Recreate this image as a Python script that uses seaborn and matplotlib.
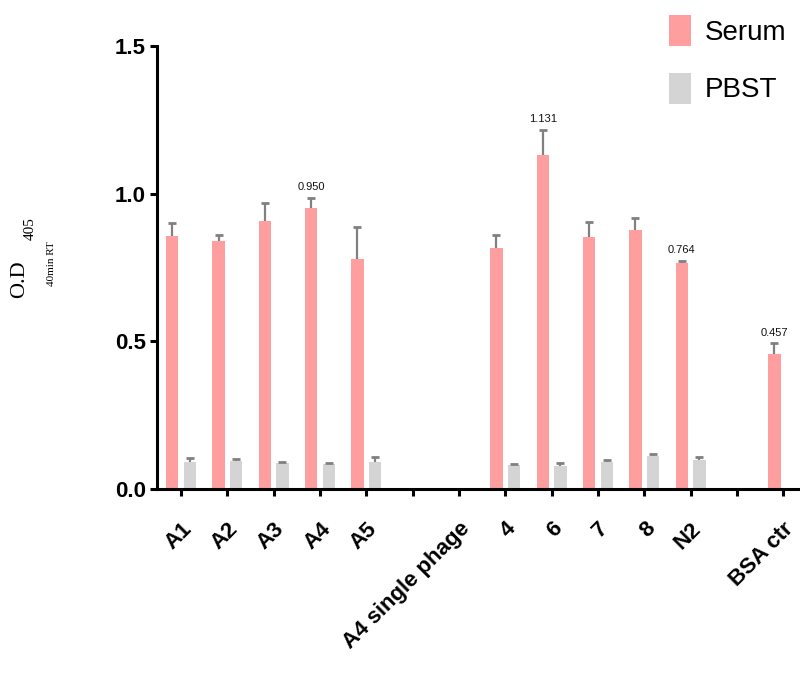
import matplotlib
matplotlib.use("Agg")
import matplotlib.pyplot as plt
from matplotlib.patches import Patch
import seaborn as sns
import pandas as pd
import numpy as np

# ---- data ----
order = ["A1", "A2", "A3", "A4", "A5", "", "A4 single phage",
         "4", "6", "7", "8", "N2", " ", "BSA ctr"]
serum_samples = ["A1", "A2", "A3", "A4", "A5", "4", "6", "7", "8", "N2", "BSA ctr"]
serum_values = [0.858, 0.839, 0.909, 0.950, 0.780, 0.817, 1.131, 0.854, 0.877, 0.764, 0.457]
serum_err = [0.043, 0.022, 0.058, 0.036, 0.107, 0.042, 0.085, 0.049, 0.042, 0.009, 0.036]
pbst_samples = ["A1", "A2", "A3", "A4", "A5", "4", "6", "7", "8", "N2"]
pbst_values = [0.090, 0.095, 0.088, 0.086, 0.092, 0.080, 0.079, 0.090, 0.111, 0.098]
pbst_err = [0.015, 0.005, 0.004, 0.003, 0.015, 0.006, 0.008, 0.007, 0.009, 0.010]
labeled = ["A4", "6", "N2", "BSA ctr"]
yticks = [0.0, 0.5, 1.0, 1.5]

serum_color = "#FF9E9E"
pbst_color = "#D4D4D4"
err_color = "#808080"

df = pd.DataFrame({
    "sample": serum_samples + pbst_samples,
    "od": serum_values + pbst_values,
    "cond": ["Serum"] * len(serum_samples) + ["PBST"] * len(pbst_samples),
})
errs = {"Serum": dict(zip(serum_samples, serum_err)),
        "PBST": dict(zip(pbst_samples, pbst_err))}

sns.set_style("ticks")
plt.rcParams["font.family"] = ["Liberation Sans", "DejaVu Sans"]
plt.rcParams["text.color"] = "black"
plt.rcParams["xtick.color"] = "black"
plt.rcParams["ytick.color"] = "black"
plt.rcParams["axes.labelcolor"] = "black"

fig = plt.figure(figsize=(8.0, 6.92), dpi=100)
ax = fig.add_axes([157 / 800, 1 - 489 / 692, 654 / 800, (489 - 46) / 692])

sns.barplot(data=df, x="sample", y="od", hue="cond", order=order,
            hue_order=["Serum", "PBST"],
            palette={"Serum": serum_color, "PBST": pbst_color},
            saturation=1, width=0.76, gap=0.3, errorbar=None, legend=False,
            linewidth=0, ax=ax)

for cont, cond in zip(ax.containers, ["Serum", "PBST"]):
    for bar in cont:
        h = bar.get_height()
        if not np.isfinite(h):
            continue
        cx = bar.get_x() + bar.get_width() / 2
        name = order[int(round(cx))]
        e = errs[cond].get(name)
        if e is None:
            continue
        ax.vlines(cx, h, h + e, color=err_color, lw=1.6, zorder=3)
        ax.plot([cx], [h + e], marker="_", ms=6, mew=2.0, color=err_color, zorder=3)
        if cond == "Serum" and name in labeled:
            ax.annotate(f"{h:.3f}", xy=(cx, h + e), xytext=(0, 4),
                        textcoords="offset points", ha="center", va="bottom",
                        fontsize=8, color="#111111")

ax.set_xlim(-0.518, 13.6)
ax.set_ylim(0, 1.5)
ax.set_yticks(yticks)
ax.set_yticklabels([f"{v:.1f}" for v in yticks], fontsize=16, fontweight="bold")
ax.set_xticks(range(len(order)))
ax.set_xticklabels(order, fontsize=16, fontweight="bold", rotation=45,
                   ha="right", rotation_mode="anchor")
ax.set_xlabel("")
ax.set_ylabel("")
for s in ["top", "right"]:
    ax.spines[s].set_visible(False)
for s in ["left", "bottom"]:
    ax.spines[s].set_linewidth(2.2)
    ax.spines[s].set_color("black")
ax.tick_params(axis="both", length=5, width=2.2, color="black", pad=3)
ax.tick_params(axis="x", pad=16)

# y label
serif = ["Liberation Serif", "DejaVu Serif"]
fig.text(20 / 800, 1 - 279 / 692, "O.D", rotation=90, fontsize=16,
         family=serif, ha="center", va="center")
fig.text(30 / 800, 1 - 229 / 692, "405", rotation=90, fontsize=11,
         family=serif, ha="center", va="center")
fig.text(51 / 800, 1 - 264 / 692, "40min RT", rotation=90, fontsize=8,
         family=serif, ha="center", va="center")

handles = [Patch(facecolor=serum_color, edgecolor="none"),
           Patch(facecolor=pbst_color, edgecolor="none")]
fig.legend(handles, ["Serum", "PBST"], loc="upper left",
           bbox_to_anchor=(669 / 800, 1 - 15 / 692), frameon=False,
           fontsize=20, handlelength=0.78, handleheight=1.35,
           handletextpad=0.5, labelspacing=0.95, borderpad=0, borderaxespad=0)

fig.savefig("out.png", dpi=100)
